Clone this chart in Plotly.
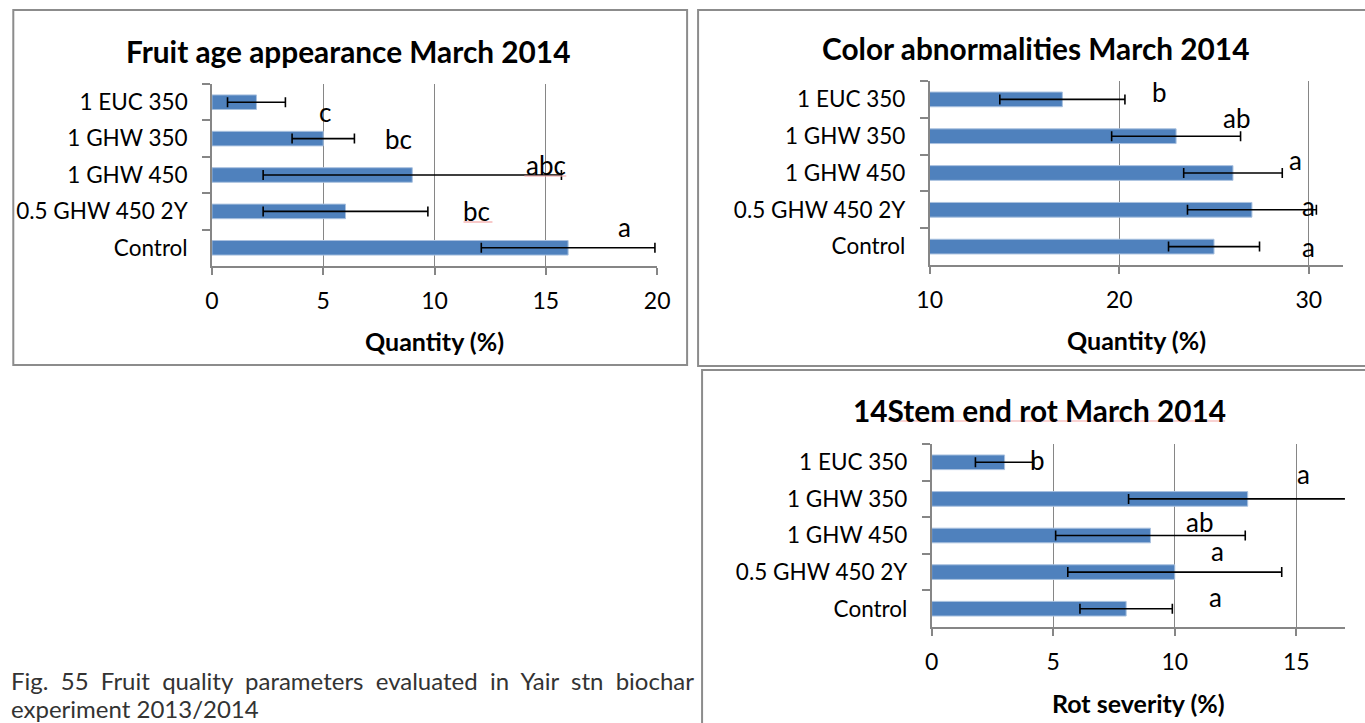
import plotly.graph_objects as go

W, H = 1365, 723

# ---------------- data ----------------
categories = ["1 EUC 350", "1 GHW 350", "1 GHW 450", "0.5 GHW 450 2Y", "Control"]

fruit_age = [2, 5, 9, 6, 16]
fruit_age_err = [1.3, 1.4, 6.7, 3.7, 3.9]
fruit_age_letters = ["c", "bc", "abc", "bc", "a"]

color_abn = [17, 23, 26, 27, 25]
color_abn_err = [3.3, 3.4, 2.6, 3.4, 2.4]
color_abn_letters = ["b", "ab", "a", "a", "a"]

stem_rot = [3, 13, 9, 10, 8]
stem_rot_err = [1.2, 4.9, 3.9, 4.4, 1.9]
stem_rot_letters = ["b", "a", "ab", "a", "a"]

titles = ["Fruit age appearance March 2014", "Color abnormalities March 2014", "14Stem end rot March 2014"]
x_titles = ["Quantity (%)", "Quantity (%)", "Rot severity (%)"]
caption_lines = ["Fig. 55 Fruit quality parameters evaluated in Yair stn biochar",
                 "experiment 2013/2014"]

# ---------------- layout helpers ----------------
# horizontal calibration of the rendered page (observed: x_render = 0.9827*x + 11.7)
SX, OX = 0.9827, 11.7

def px(x):
    return ((x - OX) / SX) / W

def py(y):
    return 1 - y / H

FONT = "Lato, Carlito, Calibri, 'Liberation Sans', sans-serif"
BAR = "#4F81BD"
GRID = "#868686"
NCAT = len(categories)

panels = [
    dict(values=fruit_age, err=fruit_age_err, letters=fruit_age_letters,
         rng=[0, 20], dtick=5, area=(211, 657, 84, 266),
         border=(12, 687, 10, 365), title_xy=(347, 52), xt_xy=(434, 341),
         let_x=[5.1, 8.4, 15.0, 11.9, 18.55], let_dy=[-10, 0, 10, 0, 21]),
    dict(values=color_abn, err=color_abn_err, letters=color_abn_letters,
         rng=[10, 31.8], dtick=10, area=(930, 1344, 81, 265),
         border=(698, 1380, 10, 366), title_xy=(1036, 49), xt_xy=(1137, 340),
         let_x=[22.1, 26.2, 29.3, 30.0, 30.0], let_dy=[7, 18, 13, 4, 0]),
    dict(values=stem_rot, err=stem_rot_err, letters=stem_rot_letters,
         rng=[0, 17], dtick=5, area=(932, 1346, 444, 627),
         border=(702, 1380, 370, 726), title_xy=(1040, 410), xt_xy=(1139, 703),
         let_x=[4.35, 15.3, 11.0, 11.75, 11.66], let_dy=[2, 25, 14, 21, 12]),
]

fig = go.Figure()
annotations = []
shapes = []

for i, p in enumerate(panels):
    n = "" if i == 0 else str(i + 1)
    xa, ya = "x" + n, "y" + n
    x0, x1, y0, y1 = p["area"]
    fig.add_trace(go.Bar(
        x=p["values"], y=categories, orientation="h",
        xaxis=xa, yaxis=ya, width=0.4,
        marker=dict(color=BAR, line=dict(color="#A9C1DF", width=1)),
        error_x=dict(type="data", array=p["err"], color="black",
                     thickness=1.6, width=5),
        showlegend=False, hoverinfo="x+y",
    ))
    fig.layout["xaxis" + n] = dict(
        domain=[px(x0), px(x1)], range=p["rng"], autorange=False, dtick=p["dtick"],
        anchor=ya, showgrid=True, gridcolor=GRID, gridwidth=1.3,
        showline=True, linecolor=GRID, linewidth=1.5,
        ticks="outside", ticklen=7, tickcolor=GRID, tickwidth=1.5,
        tickfont=dict(family=FONT, size=23, color="black"),
        ticklabelstandoff=7, zeroline=False, fixedrange=True,
    )
    fig.layout["yaxis" + n] = dict(
        domain=[py(y1), py(y0)], anchor=xa, type="category",
        categoryorder="array", categoryarray=categories,
        range=[NCAT - 0.5, -0.5], autorange=False, showgrid=False,
        showline=True, linecolor=GRID, linewidth=1.5,
        ticks="outside", tickson="boundaries", ticklen=8,
        tickcolor=GRID, tickwidth=1.5,
        tickfont=dict(family=FONT, size=22.5, color="black"),
        ticklabelstandoff=18, zeroline=False, fixedrange=True,
    )
    bx0, bx1, by0, by1 = p["border"]
    shapes.append(dict(type="rect", xref="paper", yref="paper",
                       x0=px(bx0), x1=px(bx1), y0=py(by1), y1=py(by0),
                       line=dict(color="#8C8C8C", width=2), layer="below"))
    tx, ty = p["title_xy"]
    annotations.append(dict(text="<b>" + titles[i] + "</b>", xref="paper", yref="paper",
                            x=px(tx), y=py(ty), showarrow=False,
                            xanchor="center", yanchor="middle",
                            font=dict(family=FONT, size=29.8, color="black")))
    ax, ay = p["xt_xy"]
    annotations.append(dict(text="<b>" + x_titles[i] + "</b>", xref="paper", yref="paper",
                            x=px(ax), y=py(ay), showarrow=False,
                            xanchor="center", yanchor="middle",
                            font=dict(family=FONT, size=25, color="black")))
    for cat, lt, lx, dy in zip(categories, p["letters"], p["let_x"], p["let_dy"]):
        annotations.append(dict(text=lt, xref=xa, yref=ya, x=lx, y=cat,
                                yshift=dy, showarrow=False,
                                xanchor="center", yanchor="middle",
                                font=dict(family=FONT, size=26, color="black")))

# spell-check underlines
for (ux0, ux1, uy) in [(386, 410, 148), (524, 566, 176), (463, 492, 222), (890, 1226, 421)]:
    shapes.append(dict(type="line", xref="paper", yref="paper",
                       x0=px(ux0), x1=px(ux1), y0=py(uy), y1=py(uy),
                       line=dict(color="#F4A6A6", width=1.2)))

# caption (first line justified by widening the word gaps)
caption_text = [caption_lines[0].replace(" ", "\u00a0 "), caption_lines[1]]
for j, line in enumerate(caption_text):
    annotations.append(dict(text=line, xref="paper", yref="paper",
                            x=px(8), y=py(680 + 28 * j), showarrow=False,
                            xanchor="left", yanchor="middle",
                            font=dict(family=FONT, size=24, color="#333333")))

fig.update_layout(
    width=W, height=H, autosize=False, margin=dict(l=0, r=0, t=0, b=0),
    paper_bgcolor="white", plot_bgcolor="white",
    annotations=annotations, shapes=shapes,
    font=dict(family=FONT),
)

fig.write_html("out.html", include_plotlyjs=True,
               config={"displayModeBar": False, "responsive": False},
               post_script="document.body.style.margin='0px';document.body.style.overflow='hidden';")
